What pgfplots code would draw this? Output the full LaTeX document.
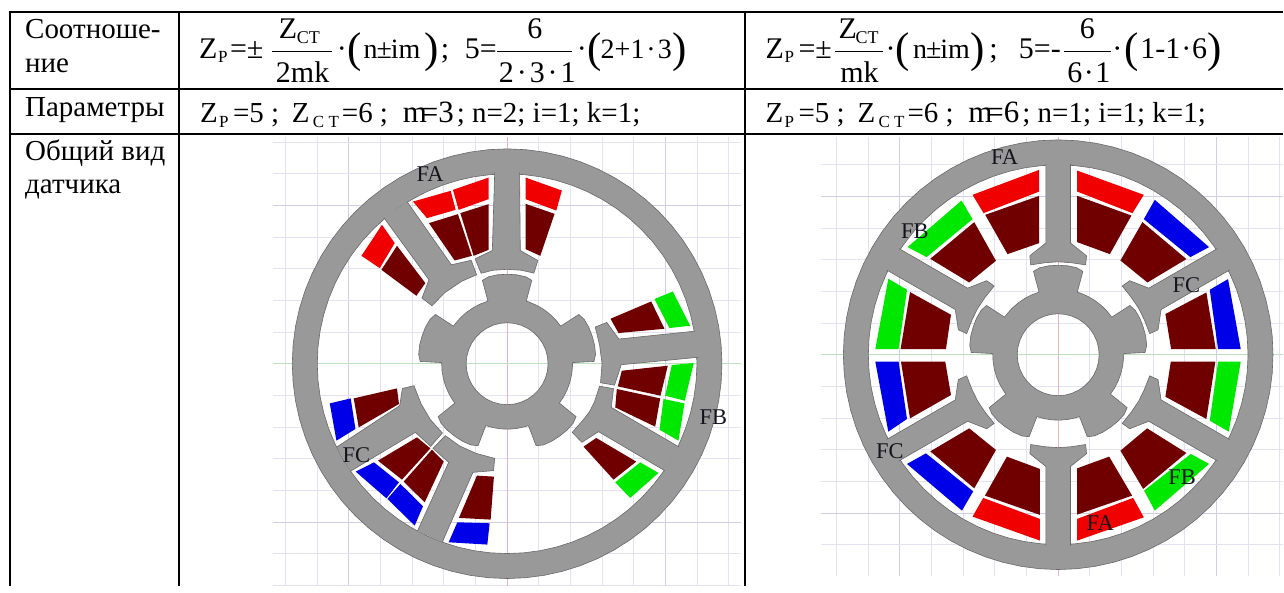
\documentclass[border=0pt]{standalone}
\usepackage{fontspec}
\setmainfont{Liberation Serif}
\usepackage{pgfplots}
\usepgfplotslibrary{polar}
\pgfplotsset{compat=1.18}

\definecolor{steel}{RGB}{153,153,153}
\definecolor{steeledge}{RGB}{105,105,105}
\definecolor{wred}{RGB}{240,0,0}
\definecolor{wmar}{RGB}{112,0,0}
\definecolor{wgrn}{RGB}{0,232,0}
\definecolor{wblu}{RGB}{0,0,232}
\definecolor{gridminor}{RGB}{228,226,242}
\definecolor{gridmajor}{RGB}{208,206,230}
\definecolor{gridred}{RGB}{236,180,184}
\definecolor{gridgreen}{RGB}{190,224,190}
\definecolor{labelink}{RGB}{20,20,30}

% stator ring: outer circle, jump, inner circle (radius in px)
\pgfplotstableread[row sep=\\]{
a r\\
0 215\\ 5 215\\ 10 215\\ 15 215\\ 20 215\\ 25 215\\ 30 215\\ 35 215\\ 40 215\\ 45 215\\ 50 215\\ 55 215\\
60 215\\ 65 215\\ 70 215\\ 75 215\\ 80 215\\ 85 215\\ 90 215\\ 95 215\\ 100 215\\ 105 215\\ 110 215\\ 115 215\\
120 215\\ 125 215\\ 130 215\\ 135 215\\ 140 215\\ 145 215\\ 150 215\\ 155 215\\ 160 215\\ 165 215\\ 170 215\\ 175 215\\
180 215\\ 185 215\\ 190 215\\ 195 215\\ 200 215\\ 205 215\\ 210 215\\ 215 215\\ 220 215\\ 225 215\\ 230 215\\ 235 215\\
240 215\\ 245 215\\ 250 215\\ 255 215\\ 260 215\\ 265 215\\ 270 215\\ 275 215\\ 280 215\\ 285 215\\ 290 215\\ 295 215\\
300 215\\ 305 215\\ 310 215\\ 315 215\\ 320 215\\ 325 215\\ 330 215\\ 335 215\\ 340 215\\ 345 215\\ 350 215\\ 355 215\\ 360 215\\
nan nan\\
0 190\\ 5 190\\ 10 190\\ 15 190\\ 20 190\\ 25 190\\ 30 190\\ 35 190\\ 40 190\\ 45 190\\ 50 190\\ 55 190\\
60 190\\ 65 190\\ 70 190\\ 75 190\\ 80 190\\ 85 190\\ 90 190\\ 95 190\\ 100 190\\ 105 190\\ 110 190\\ 115 190\\
120 190\\ 125 190\\ 130 190\\ 135 190\\ 140 190\\ 145 190\\ 150 190\\ 155 190\\ 160 190\\ 165 190\\ 170 190\\ 175 190\\
180 190\\ 185 190\\ 190 190\\ 195 190\\ 200 190\\ 205 190\\ 210 190\\ 215 190\\ 220 190\\ 225 190\\ 230 190\\ 235 190\\
240 190\\ 245 190\\ 250 190\\ 255 190\\ 260 190\\ 265 190\\ 270 190\\ 275 190\\ 280 190\\ 285 190\\ 290 190\\ 295 190\\
300 190\\ 305 190\\ 310 190\\ 315 190\\ 320 190\\ 325 190\\ 330 190\\ 335 190\\ 340 190\\ 345 190\\ 350 190\\ 355 190\\ 360 190\\
}\ringdata

% rotor with five teeth and the shaft hole
\pgfplotstableread[row sep=\\]{
a r\\
1 65.5\\ 1.5 87\\ 6 89\\ 12 89.5\\ 18 89.5\\ 24 89.5\\ 30 89\\ 34.5 87\\ 35 65.5\\ 42 65.5\\ 49 65.5\\ 56 65.5\\ 63 65.5\\ 70 65.5\\
73 65.5\\ 73.5 87\\ 78 89\\ 84 89.5\\ 90 89.5\\ 96 89.5\\ 102 89\\ 106.5 87\\ 107 65.5\\ 114 65.5\\ 121 65.5\\ 128 65.5\\ 135 65.5\\ 142 65.5\\
145 65.5\\ 145.5 87\\ 150 89\\ 156 89.5\\ 162 89.5\\ 168 89.5\\ 174 89\\ 178.5 87\\ 179 65.5\\ 186 65.5\\ 193 65.5\\ 200 65.5\\ 207 65.5\\ 214 65.5\\
217 65.5\\ 217.5 87\\ 222 89\\ 228 89.5\\ 234 89.5\\ 240 89.5\\ 246 89\\ 250.5 87\\ 251 65.5\\ 258 65.5\\ 265 65.5\\ 272 65.5\\ 279 65.5\\ 286 65.5\\
289 65.5\\ 289.5 87\\ 294 89\\ 300 89.5\\ 306 89.5\\ 312 89.5\\ 318 89\\ 322.5 87\\ 323 65.5\\ 330 65.5\\ 337 65.5\\ 344 65.5\\ 351 65.5\\ 358 65.5\\ 361 65.5\\
nan nan\\
0 41\\ 10 41\\ 20 41\\ 30 41\\ 40 41\\ 50 41\\ 60 41\\ 70 41\\ 80 41\\ 90 41\\ 100 41\\ 110 41\\ 120 41\\ 130 41\\ 140 41\\ 150 41\\ 160 41\\ 170 41\\
180 41\\ 190 41\\ 200 41\\ 210 41\\ 220 41\\ 230 41\\ 240 41\\ 250 41\\ 260 41\\ 270 41\\ 280 41\\ 290 41\\ 300 41\\ 310 41\\ 320 41\\ 330 41\\ 340 41\\ 350 41\\ 360 41\\
}\rotordata

\pgfplotsset{
  pagebox/.style={scale only axis, width=1284pt, height=586pt, at={(0pt,0pt)}, anchor=south west,
    xmin=0, xmax=1284, ymin=0, ymax=586, y dir=reverse, hide axis, clip=false},
  motor/.style={scale only axis, anchor=south west, axis line style={draw=none}, tick style={draw=none},
    xtick={-158.5,158.5}, ytick={-158.5,158.5},
    minor xtick={-221.9,-190.2,-126.8,-95.1,-63.4,-31.7,31.7,63.4,95.1,126.8,190.2,221.9},
    minor ytick={-221.9,-190.2,-126.8,-95.1,-63.4,-31.7,31.7,63.4,95.1,126.8,190.2,221.9},
    xticklabels={}, yticklabels={}, grid=both,
    major grid style={gridmajor, line width=0.9pt}, minor grid style={gridminor, line width=0.9pt},
    extra x ticks={0}, extra y ticks={0}, extra x tick labels={}, extra y tick labels={},
    extra x tick style={major grid style={gridred, line width=0.9pt}},
    extra y tick style={major grid style={gridgreen, line width=0.9pt}}},
  ring/.style={fill=steel, draw=steeledge, line width=0.6pt, even odd rule, unbounded coords=jump, data cs=polar},
  tooth/.style={fill=steel, draw=steeledge, line width=0.6pt},
  ptooth/.style={tooth, data cs=polar},
}
\newcommand{\tx}[4]{\node[anchor=base west, inner sep=0pt, font=\fontsize{#3}{#3}\selectfont] at (axis cs:#1,#2) {#4};}
\newcommand{\lb}[3]{\node[anchor=base west, inner sep=0pt, text=labelink, font=\fontsize{22.5}{22.5}\selectfont] at (axis cs:#1,#2) {#3};}

\begin{document}
\begin{tikzpicture}
\begin{axis}[pagebox]
\addplot[fill=white, draw=none] coordinates {(0,0)(1284,0)(1284,586)(0,586)};
\end{axis}

% left motor
\begin{axis}[motor, at={(273pt,0pt)}, width=469pt, height=449pt, xmin=-234.5, xmax=234.5, ymin=-222, ymax=227]
\addplot[ring] table[x=a, y=r] {\ringdata};
\addplot[ring] table[x=a, y=r] {\rotordata};
\end{axis}

% right motor
\begin{axis}[motor, at={(822pt,10pt)}, width=462pt, height=439pt, xmin=-237, xmax=225, ymin=-221, ymax=218]
\addplot[ring] table[x=a, y=r] {\ringdata};
\addplot[ring] table[x=a, y=r] {\rotordata};
\addplot[ptooth] coordinates {(93.7,191.5)(96.3,112.5)(106,103)(107,94)(98,93)(90,93)(82,93)(73,94)(74,103)(83.7,112.5)(86.3,191.5)};
\addplot[ptooth] coordinates {(33.7,191.5)(36.3,112.5)(46,103)(47,94)(38,93)(30,93)(22,93)(13,94)(14,103)(23.7,112.5)(26.3,191.5)};
\addplot[ptooth] coordinates {(-26.3,191.5)(-23.7,112.5)(-14,103)(-13,94)(-22,93)(-30,93)(-38,93)(-47,94)(-46,103)(-36.3,112.5)(-33.7,191.5)};
\addplot[ptooth] coordinates {(-86.3,191.5)(-83.7,112.5)(-74,103)(-73,94)(-82,93)(-90,93)(-98,93)(-107,94)(-106,103)(-96.3,112.5)(-93.7,191.5)};
\addplot[ptooth] coordinates {(213.7,191.5)(216.3,112.5)(226,103)(227,94)(218,93)(210,93)(202,93)(193,94)(194,103)(203.7,112.5)(206.3,191.5)};
\addplot[ptooth] coordinates {(153.7,191.5)(156.3,112.5)(166,103)(167,94)(158,93)(150,93)(142,93)(133,94)(134,103)(143.7,112.5)(146.3,191.5)};
\end{axis}

\begin{axis}[pagebox]
% left motor, stator teeth
\addplot[tooth] coordinates {(495,172.5)(495,175)(492.7,250.7)(475.5,259)(481.5,273.5)(493,270.5)(507.5,269.5)(522,270.5)(534.3,273.3)(538.3,260.7)(520.7,250.7)(520,175)(520,172.5)};
\addplot[tooth] coordinates {(407.5,202)(451.7,265)(471.5,260.5)(477,275)(462,281.5)(445,293)(432.3,306)(422.3,298.3)(429.3,280)(385,219)(384,217.8)};
\addplot[tooth] coordinates {(695.5,331.4)(619.3,339.3)(607.3,322.7)(595.7,327.3)(600,345)(602.5,364)(601,383)(615,385.5)(621.7,365)(697.3,357.7)(699,357.5)};
\addplot[tooth] coordinates {(679.7,447.4)(611.7,407.7)(614,389)(600,386.5)(595,402)(590,412)(583,421)(572.7,432.7)(582.3,442.7)(599,432)(664,470.3)(665.3,471.2)};
\addplot[tooth] coordinates {(417.7,531.6)(449,462.7)(433.3,448.7)(445.7,436)(460,446.3)(476.6,453.8)(495,458.7)(494,471)(473.3,472.7)(443.3,541)(442.9,542.4)};
\addplot[tooth] coordinates {(337,447.4)(400,406)(402.7,388.7)(414.3,386)(421.4,404.1)(430.6,419.8)(442.7,433.3)(431,446.7)(415.7,432.7)(351.7,471)(350.6,471.8)};

% left motor, windings
\addplot[fill=wred, draw=none] coordinates {(413.3,201.7)(451,191)(456,210)(427.3,218.3)};
\addplot[fill=wred, draw=none] coordinates {(453.3,190)(489,177.7)(489,199.3)(459,210)};
\addplot[fill=wmar, draw=none] coordinates {(429.3,223.3)(458.3,214.3)(472.3,256)(455,260.7)};
\addplot[fill=wmar, draw=none] coordinates {(460.7,213.3)(489,204.3)(489,250)(474,256)};
\addplot[fill=wred, draw=none] coordinates {(382.3,225)(395,243.3)(380,268.3)(361.7,256)};
\addplot[fill=wmar, draw=none] coordinates {(397.3,246)(425.7,283.3)(416.7,296)(381.7,270)};
\addplot[fill=wred, draw=none] coordinates {(526,177.7)(562.3,190.7)(556.7,210.7)(526,199.3)};
\addplot[fill=wmar, draw=none] coordinates {(526,204)(555,214)(540.7,256)(526,249.3)};
\addplot[fill=wgrn, draw=none] coordinates {(655,299.3)(673.3,291.7)(690.7,326)(670,328.3)};
\addplot[fill=wmar, draw=none] coordinates {(611,319)(651.7,301.7)(665,329)(619,333.3)};
\addplot[fill=wgrn, draw=none] coordinates {(672.3,365.3)(694.3,363.3)(685.3,401)(665.7,396)};
\addplot[fill=wmar, draw=none] coordinates {(622.3,371)(668.3,366)(661,396)(618.3,386.7)};
\addplot[fill=wmar, draw=none] coordinates {(617.3,389.3)(660.7,398.7)(655.7,427)(615.7,407.7)};
\addplot[fill=wgrn, draw=none] coordinates {(664,399.3)(685,403.7)(679,441)(660,430)};
\addplot[fill=wmar, draw=none] coordinates {(584,447)(596.7,438.3)(636.7,462)(614,480)};
\addplot[fill=wgrn, draw=none] coordinates {(640.7,462.7)(659,473.3)(630.7,498.3)(615.7,482.7)};
\addplot[fill=wblu, draw=none] coordinates {(330,403.7)(351,398.7)(355.7,429.3)(336.7,441)};
\addplot[fill=wmar, draw=none] coordinates {(354,398.7)(397.3,388.7)(399.3,404.3)(359,427.7)};
\addplot[fill=wmar, draw=none] coordinates {(378.3,461)(417.3,437.7)(430.7,448.7)(402.3,480)};
\addplot[fill=wmar, draw=none] coordinates {(432.3,450)(444,462)(425,502.7)(404,482)};
\addplot[fill=wblu, draw=none] coordinates {(356,472)(374.3,462.7)(399.3,482.7)(386.7,498.7)};
\addplot[fill=wblu, draw=none] coordinates {(400.7,484.3)(423.3,506.7)(415,526)(387.7,499.3)};
\addplot[fill=wmar, draw=none] coordinates {(477.3,476)(494.3,477)(491,520)(459.3,518.3)};
\addplot[fill=wblu, draw=none] coordinates {(457.7,522.7)(490,523.7)(487.7,545)(449,542.7)};

% right motor, windings
\addplot[fill=wred, draw=none] coordinates {(973.3,195)(1040,170)(1040,191.7)(984.3,213.3)};
\addplot[fill=wmar, draw=none] coordinates {(986,215)(1040,196)(1040,243.3)(1008.3,254.3)};
\addplot[fill=wgrn, draw=none] coordinates {(908.3,247.3)(962.3,200.7)(973.3,219.3)(927.3,257.3)};
\addplot[fill=wmar, draw=none] coordinates {(931,259)(975,222.3)(996.7,261)(970,282.7)};
\addplot[fill=wgrn, draw=none] coordinates {(889,279)(907.7,290)(899.3,349.3)(876,349.3)};
\addplot[fill=wmar, draw=none] coordinates {(910.7,292.3)(951.7,315)(946.7,349.3)(901.3,349.3)};
\addplot[fill=wred, draw=none] coordinates {(1078,170.7)(1144.7,195)(1133.3,213.3)(1078,191.7)};
\addplot[fill=wmar, draw=none] coordinates {(1078,196)(1132.3,215.7)(1110.7,254.3)(1078,242.3)};
\addplot[fill=wblu, draw=none] coordinates {(1155.7,200)(1210,247.3)(1191.3,257.3)(1144.7,219.3)};
\addplot[fill=wmar, draw=none] coordinates {(1143.3,222.3)(1187.3,259.3)(1148.3,282.7)(1121.3,260.7)};
\addplot[fill=wblu, draw=none] coordinates {(1229,279.3)(1241.7,349.3)(1219,349.3)(1210.7,290)};
\addplot[fill=wmar, draw=none] coordinates {(1207.3,292.7)(1216.7,349.3)(1172,349.3)(1166.3,314.3)};
\addplot[fill=wblu, draw=none] coordinates {(876,362)(899.3,362)(907.7,419.3)(889,432)};
\addplot[fill=wmar, draw=none] coordinates {(901.7,362)(946,362)(951.7,395.3)(910.7,418.7)};
\addplot[fill=wmar, draw=none] coordinates {(931,451.7)(970,428.7)(996.7,450.3)(975,488.7)};
\addplot[fill=wblu, draw=none] coordinates {(907.7,464.3)(926.7,453.7)(974,491.7)(962.7,511)};
\addplot[fill=wmar, draw=none] coordinates {(1007.7,457)(1040.7,469.3)(1040.7,515.3)(985.7,496)};
\addplot[fill=wred, draw=none] coordinates {(984,498.3)(1040.7,519.3)(1040.7,541)(973.3,517)};
\addplot[fill=wmar, draw=none] coordinates {(1078,468.7)(1110,457)(1133,496)(1078,515)};
\addplot[fill=wred, draw=none] coordinates {(1078,519.3)(1134,498.3)(1144.7,517.7)(1078,541)};
\addplot[fill=wmar, draw=none] coordinates {(1121.3,451)(1148,428.7)(1187.3,453.3)(1144,489.3)};
\addplot[fill=wgrn, draw=none] coordinates {(1191.7,454.3)(1210,464.3)(1155.7,511)(1145,491)};
\addplot[fill=wmar, draw=none] coordinates {(1171.7,362)(1216.3,362)(1207.3,419.3)(1166.3,397)};
\addplot[fill=wgrn, draw=none] coordinates {(1219,362)(1241.7,362)(1229.7,432)(1210.7,421)};

% table rules
\addplot[black, line width=2pt] coordinates {(9,12)(1284,12)};
\addplot[black, line width=2pt] coordinates {(9,89.3)(1284,89.3)};
\addplot[black, line width=2pt] coordinates {(9,133.7)(1284,133.7)};
\addplot[black, line width=2pt] coordinates {(10,11)(10,586)};
\addplot[black, line width=2pt] coordinates {(178.7,11)(178.7,586)};
\addplot[black, line width=2pt] coordinates {(746,11)(746,586)};

% first column
\tx{25}{39}{29}{Соотноше-}
\tx{25}{72.7}{29}{ние}
\tx{25}{116.7}{29}{Параметры}
\tx{25}{161}{29}{Общий вид}
\tx{25}{194}{29}{датчика}

% left formula
\tx{199}{58.3}{30}{Z}
\tx{218}{63}{17}{P}
\tx{230}{58.3}{30}{=±}
\tx{279}{39}{30}{Z}
\tx{297}{44}{18}{CT}
\addplot[black, line width=1pt] coordinates {(272.7,51.7)(332.5,51.7)};
\tx{276}{82.7}{30}{2mk}
\tx{337}{58.3}{30}{·}
\tx{347.5}{62.4}{43}{(}
\tx{363.6}{58.3}{28}{n\kern-1pt±\kern-1pt im}
\tx{425}{62.4}{43}{)}
\tx{441}{58.3}{30}{;}
\tx{465}{58.3}{30}{5=}
\tx{527.5}{39}{30}{6}
\addplot[black, line width=1pt] coordinates {(497.6,51.7)(572.7,51.7)};
\tx{499}{82.7}{30}{2\kern3pt·\kern3pt3\kern3pt·\kern3pt1}
\tx{577}{58.3}{30}{·}
\tx{587.5}{62.4}{43}{(}
\tx{601}{58.3}{28}{2+1\kern2pt·\kern2pt3}
\tx{672.5}{62.4}{43}{)}

% right formula
\tx{766}{58.3}{30}{Z}
\tx{785}{63}{17}{P}
\tx{799}{58.3}{30}{=±}
\tx{839}{39}{30}{Z}
\tx{856}{44}{18}{CT}
\addplot[black, line width=1pt] coordinates {(835.5,51.7)(883.4,51.7)};
\tx{840.7}{82.7}{30}{mk}
\tx{886}{58.3}{30}{·}
\tx{896}{62.4}{43}{(}
\tx{913.6}{58.3}{28}{n\kern-1pt±\kern-1pt im}
\tx{971.5}{62.4}{43}{)}
\tx{990}{58.3}{30}{;}
\tx{1019.5}{58.3}{30}{5=-}
\tx{1080.6}{39}{30}{6}
\addplot[black, line width=1pt] coordinates {(1064.7,51.7)(1111.5,51.7)};
\tx{1068}{82.7}{30}{6\kern1.5pt·\kern1.5pt1}
\tx{1113}{58.3}{30}{·}
\tx{1125}{62.4}{43}{(}
\tx{1141}{58.3}{30}{1-1\kern1pt·\kern1pt6}
\tx{1208.7}{62.4}{43}{)}

% parameter rows
\tx{200}{123}{29}{Z}
\tx{219}{128}{17}{P}
\tx{233}{123}{29}{=5 ;}
\tx{292}{123}{29}{Z}
\tx{313}{128}{17}{C T}
\tx{342}{123}{29}{=6 ;}
\tx{403}{123}{31}{m}
\tx{421}{123}{31}{=3}
\tx{457}{123}{29}{; n=2; i=1; k=1;}
\tx{766}{123}{29}{Z}
\tx{785}{128}{17}{P}
\tx{799}{123}{29}{=5 ;}
\tx{858}{123}{29}{Z}
\tx{879}{128}{17}{C T}
\tx{908}{123}{29}{=6 ;}
\tx{969}{123}{31}{m}
\tx{987}{123}{31}{=6}
\tx{1023}{123}{29}{; n=1; i=1; k=1;}

% phase labels
\lb{416.7}{181.7}{FA}
\lb{700}{425.3}{FB}
\lb{342.7}{463.3}{FC}
\lb{991.7}{164.3}{FA}
\lb{901.7}{238.3}{FB}
\lb{1173.3}{292.7}{FC}
\lb{876.7}{459.3}{FC}
\lb{1087.3}{531}{FA}
\lb{1169}{485.3}{FB}
\end{axis}
\end{tikzpicture}
\end{document}
